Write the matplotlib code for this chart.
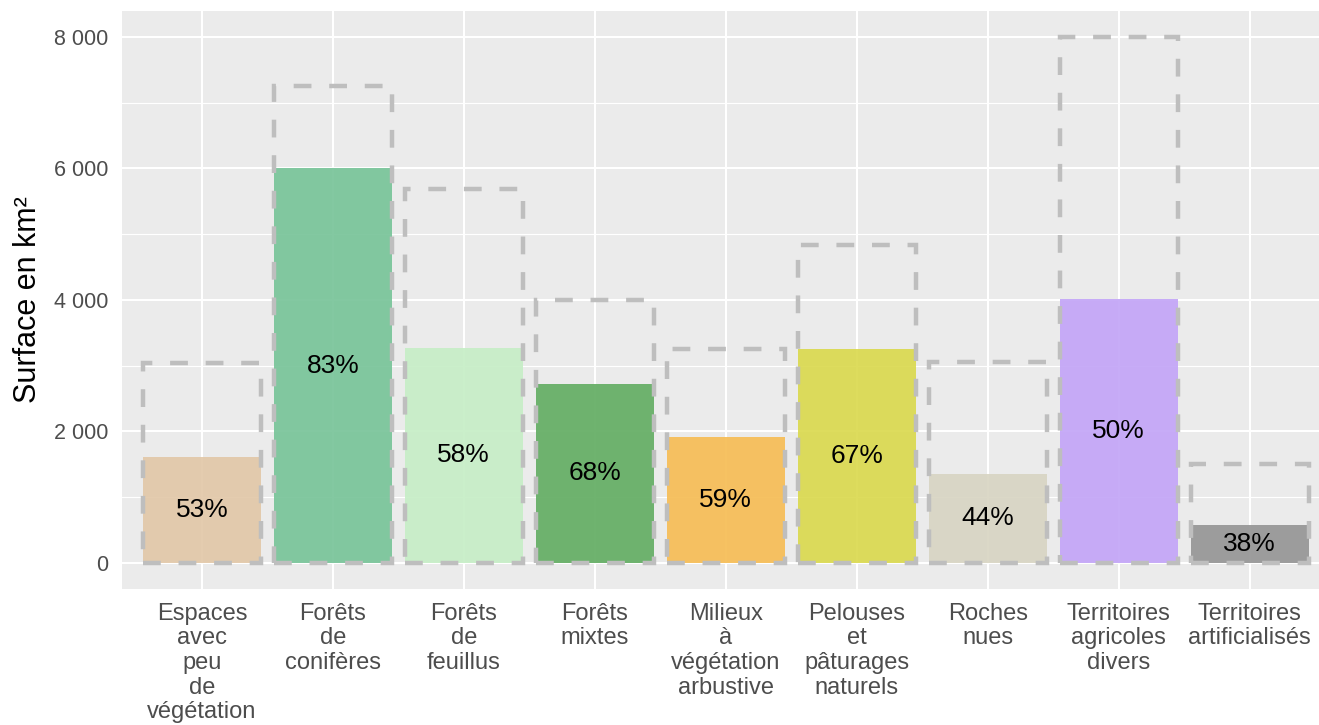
import matplotlib
matplotlib.use("Agg")
import matplotlib.pyplot as plt
import numpy as np

plt.rcParams['font.family'] = ['Liberation Sans', 'DejaVu Sans']

categories = ["Espaces\navec\npeu\nde\nvégétation", "Forêts\nde\nconifères", "Forêts\nde\nfeuillus",
              "Forêts\nmixtes", "Milieux\nà\nvégétation\narbustive", "Pelouses\net\npâturages\nnaturels",
              "Roches\nnues", "Territoires\nagricoles\ndivers", "Territoires\nartificialisés"]
part = [1610, 6000, 3270, 2720, 1915, 3255, 1350, 4010, 578]
total = [3040, 7250, 5690, 4000, 3250, 4830, 3060, 8000, 1500]
pct = ["53%", "83%", "58%", "68%", "59%", "67%", "44%", "50%", "38%"]
colors = ["#E2C8A8", "#78C499", "#C6EEC6", "#63AD63", "#F6BD55", "#DAD94F",
          "#D8D5C3", "#C3A5F7", "#959595"]

fig = plt.figure(figsize=(13.19, 7.25), dpi=100)
ax = fig.add_axes([0.0925, 0.1876, 0.9075, 0.7976])
ax.set_facecolor("#EBEBEB")
for s in ax.spines.values():
    s.set_visible(False)

x = np.arange(1, len(categories) + 1)
ax.bar(x, part, width=0.9, color=colors, alpha=0.92, zorder=2)
ax.bar(x, total, width=0.9, fill=False, edgecolor="#BEBEBE", linewidth=3.2,
       linestyle=(0, (4, 4)), zorder=3)
for xi, p, t in zip(x, part, pct):
    ax.text(xi, p / 2, t, ha="center", va="center", fontsize=19, color="black", zorder=4)

ax.set_xlim(0.39, 9.53)
ax.set_ylim(-400, 8400)
ax.set_yticks([0, 2000, 4000, 6000, 8000])
ax.set_yticklabels(["0", "2 000", "4 000", "6 000", "8 000"])
ax.set_yticks([1000, 3000, 5000, 7000], minor=True)
ax.set_xticks(x)
ax.set_xticklabels(categories, linespacing=1.15, fontsize=17)
ax.tick_params(axis="both", which="both", length=0, labelcolor="#4D4D4D")
ax.tick_params(axis="y", labelsize=15.5, pad=10)
ax.tick_params(axis="x", pad=10)
ax.grid(True, which="major", color="white", linewidth=1.5, zorder=0)
ax.grid(True, which="minor", axis="y", color="white", linewidth=0.8, zorder=0)
ax.set_axisbelow(True)
ax.set_ylabel("Surface en km²", fontsize=22, color="black", labelpad=8)

fig.savefig("out.png", dpi=100)
